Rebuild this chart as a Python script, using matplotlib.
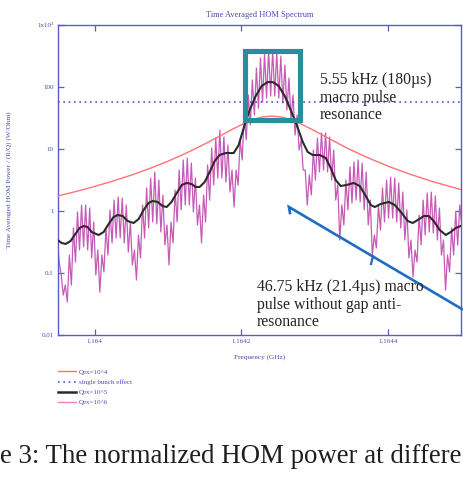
import numpy as np
import matplotlib
matplotlib.use("Agg")
import matplotlib.pyplot as plt
from matplotlib.patches import Rectangle
from matplotlib.lines import Line2D
from matplotlib.ticker import FixedLocator, NullLocator

# ---------------- data ----------------
BASE_GHZ = 1.164          # frequency offset origin (GHz); offsets below in kHz

# Qex = 10^4
qex4_khz = [-55, -50, -25, 0, 25, 50, 75, 100, 125, 150, 170, 190, 205, 220, 230,
            242, 255, 265, 280, 300, 320, 345, 370, 400, 430, 460, 505]
qex4_val = [1.69, 1.75, 2.07, 2.49, 3.04, 3.79, 4.84, 6.34, 8.59, 12.0, 16.0, 21.4,
            26.2, 30.8, 33.0, 34.0, 32.8, 30.5, 25.9, 19.7, 14.7, 10.3, 7.49, 5.31,
            3.94, 3.01, 2.13]

# single bunch effect
single_bunch_val = 57.0

# Qex = 10^5
qex5_khz = [-50.5, -45, -39.6, -32.8, -27.3, -20.5, -15, -9.6, -4.1, 5.5, 12.3, 19.1,
            25.9, 31.4, 38.2, 45, 53.2, 60.1, 66.9, 73.7, 79.2, 86, 92.8, 98.3, 105,
            112, 119, 125.6, 132.4, 137.9, 143.3, 150.2, 157, 163.8, 170.6, 178.8,
            189.8, 196.6, 203.4, 211.6, 219.8, 228, 236.2, 243, 251.2, 259.4, 267.6,
            275.8, 284, 290.8, 297.6, 307.2, 315.4, 322.2, 329, 335.8, 344, 353.6,
            361.8, 370, 376.8, 382.3, 390.5, 401.4, 409.6, 419.1, 427.3, 434.1, 441,
            449.2, 456, 462.8, 471, 479.2, 486, 492.8, 499.7]
qex5_val = [0.34, 0.305, 0.294, 0.328, 0.41, 0.532, 0.573, 0.552, 0.458, 0.41, 0.458,
            0.617, 0.80, 0.861, 0.83, 0.69, 0.64, 0.743, 1.04, 1.35, 1.45, 1.40, 1.20,
            1.16, 1.40, 1.95, 2.63, 2.83, 2.72, 2.44, 2.44, 2.94, 4.26, 6.4, 8.0, 8.6,
            8.6, 11.6, 21.8, 42.6, 71.6, 104, 120, 120, 104, 71.6, 42.6, 24.4, 13.0,
            8.95, 8.0, 8.0, 7.16, 4.94, 3.16, 2.53, 2.63, 2.83, 2.53, 1.75, 1.25, 1.16,
            1.30, 1.40, 1.25, 0.928, 0.69, 0.64, 0.716, 0.83, 0.83, 0.69, 0.494, 0.41,
            0.458, 0.532, 0.573]

# Qex = 10^6 : read at every half spike spacing (5.55 kHz comb), spike tips and dips
qex6_center_khz = 243.0
qex6_half_step_khz = 2.775
qex6_first_index = -106
qex6_val = [
    0.34, 0.15,
    0.093, 0.044, 0.064, 0.034,
    0.195, 0.064, 0.532, 0.150, 0.963, 0.235, 1.25, 0.263, 1.25, 0.235, 1.12, 0.175, 0.665, 0.093, 0.235, 0.049,
    0.195, 0.104, 0.532, 0.195, 1.04, 0.305, 1.50, 0.367, 1.68, 0.367, 1.62, 0.305, 1.25, 0.218, 0.665, 0.135, 0.235, 0.077,
    0.41, 0.175, 1.25, 0.367, 2.35, 0.532, 3.40, 0.665, 4.26, 0.617, 3.16, 0.458, 1.81, 0.283, 0.595, 0.135,
    0.665, 0.305, 2.18, 0.665, 4.58, 1.04, 6.65, 1.25, 7.16, 1.25, 5.94, 0.963, 3.40, 0.595, 1.25, 0.305,
    1.81, 0.665, 5.52, 1.50, 10.4, 2.63, 15.0, 3.40, 20.2, 3.40, 15.6, 2.94, 11.6, 2.02, 4.58, 1.16,
    4.58, 2.63, 14.0, 6.65, 35.3, 14.0, 74.3, 24.4, 130, 35.3, 202, 45.8, 294, 57.3, 353, 66.5, 395, 71.6,
    395, 71.6, 367, 66.5, 316, 55.2, 226, 42.6, 140, 29.4, 74.3, 16.8, 35.3, 9.64, 14.0, 4.58, 4.58, 1.25,
    3.81, 1.81, 9.64, 3.16, 15.0, 4.26, 18.1, 4.58, 18.1, 4.26, 15.6, 3.16, 9.64, 1.50, 2.63, 0.340,
    1.25, 0.595, 3.16, 1.04, 5.13, 1.35, 6.17, 1.50, 6.65, 1.40, 5.94, 1.04, 4.26, 0.595, 1.50, 0.195,
    0.41, 0.253, 1.25, 0.494, 2.35, 0.665, 3.16, 0.771, 3.53, 0.771, 3.40, 0.665, 2.83, 0.532, 2.02, 0.340, 1.04, 0.175, 0.340, 0.086,
    0.235, 0.150, 0.861, 0.283, 1.50, 0.410, 1.95, 0.458, 2.02, 0.442, 1.75, 0.340, 1.12, 0.195, 0.340, 0.053,
    0.195, 0.104, 0.532, 0.195, 0.963, 0.283, 1.25, 0.595,
]

x_ticks = [1.164, 1.1642, 1.1644]
x_tick_labels = ["1.164", "1.1642", "1.1644"]
y_ticks = [0.01, 0.1, 1, 10, 100, 1000]
y_tick_labels = ["0.01", "0.1", "1", "10", "100", "1x10\u00b3"]
x_limits = (1.16395, 1.1645)
y_limits = (0.01, 1000)

legend_labels = ["Qex=10^4", "single bunch effect", "Qex=10^5", "Qex=10^6"]
caption_text = "e 3: The normalized HOM power at differe"

# ---------------- styling ----------------
SERIF = ["Liberation Serif", "DejaVu Serif"]
AX_BLUE = "#5a5ac8"
TXT_BLUE = "#4b4bb0"
RED = "#ff7272"
BLACK = "#2b2b2b"
MAGENTA = "#c65ab6"
DOT_BLUE = "#4f4fd6"

plt.rcParams["font.family"] = SERIF

W, H = 463, 483
fig = plt.figure(figsize=(W / 100, H / 100), dpi=100)
ax_l, ax_r, ax_t, ax_b = 58, 461, 25, 335
ax = fig.add_axes([ax_l / W, 1 - ax_b / H, (ax_r - ax_l) / W, (ax_b - ax_t) / H])

def khz_to_ghz(k):
    return BASE_GHZ + np.asarray(k, dtype=float) * 1e-6

qex6_khz = qex6_center_khz + qex6_half_step_khz * np.arange(qex6_first_index,
                                                             qex6_first_index + len(qex6_val))

l6, = ax.plot(khz_to_ghz(qex6_khz), qex6_val, color=MAGENTA, lw=0.9, zorder=2)
l4, = ax.plot(khz_to_ghz(qex4_khz), qex4_val, color=RED, lw=1.0, zorder=3)
l5, = ax.plot(khz_to_ghz(qex5_khz), qex5_val, color=BLACK, lw=1.5, zorder=4)
lsb = ax.axhline(single_bunch_val, color=DOT_BLUE, lw=1.2, linestyle=(0, (1, 2.2)), zorder=3)

ax.set_yscale("log")
ax.set_xlim(*x_limits)
ax.set_ylim(*y_limits)
ax.xaxis.set_major_locator(FixedLocator(x_ticks))
ax.set_xticklabels(x_tick_labels)
ax.yaxis.set_major_locator(FixedLocator(y_ticks))
ax.set_yticklabels(y_tick_labels)
ax.yaxis.set_minor_locator(NullLocator())
ax.xaxis.set_minor_locator(NullLocator())

ax.tick_params(which="major", direction="in", length=4, width=0.9, color=AX_BLUE,
               labelcolor=TXT_BLUE, labelsize=5, top=True, right=True, pad=3)
for s in ax.spines.values():
    s.set_color(AX_BLUE)
    s.set_linewidth(1.0)

ax.set_title("Time Averaged HOM Spectrum", fontsize=6, color=TXT_BLUE, pad=6)
ax.set_xlabel("Frequency (GHz)", fontsize=5.2, color=TXT_BLUE)
ax.xaxis.set_label_coords(0.5, -0.063)
ax.set_ylabel("Time Averaged HOM Power / (R/Q) (W/Ohm)", fontsize=5.2, color=TXT_BLUE)
ax.yaxis.set_label_coords(-0.114, 0.5)

# annotations (axes fraction)
ax.add_patch(Rectangle((0.4628, 0.692), 0.6017 - 0.4628, 0.916 - 0.692,
                       transform=ax.transAxes, fill=False, edgecolor="#2b8c9c",
                       lw=3.7, zorder=6, clip_on=False))
ax.add_line(Line2D([0.5757, 0.573, 1.002], [0.3935, 0.413, 0.084], transform=ax.transAxes,
                   color="#1f6cc0", lw=1.9, zorder=6, clip_on=False, solid_joinstyle="miter"))
ax.add_line(Line2D([0.7816, 0.7767], [0.2532, 0.229], transform=ax.transAxes,
                   color="#1f6cc0", lw=1.6, zorder=6, clip_on=False))
ax.text(0.650, 0.848, "5.55 kHz (180\u00b5s)\nmacro pulse\nresonance", transform=ax.transAxes,
        fontsize=11.3, color="#222222", va="top", ha="left", linespacing=1.13, zorder=7)
ax.text(0.494, 0.180, "46.75 kHz (21.4\u00b5s) macro\npulse without gap anti-\nresonance",
        transform=ax.transAxes, fontsize=11.3, color="#222222", va="top", ha="left",
        linespacing=1.13, zorder=7, clip_on=False)

# legend
handles = [l4, Line2D([], [], color=DOT_BLUE, lw=1.2, linestyle=(0, (1, 2.2))),
           Line2D([], [], color=BLACK, lw=1.8), Line2D([], [], color="#ee7fc4", lw=1.0)]
fig.legend(handles, legend_labels, loc="upper left",
           bbox_to_anchor=(58 / W, 1 - 369 / H), frameon=False, fontsize=5,
           labelcolor=TXT_BLUE, handlelength=2.6, handletextpad=0.4,
           labelspacing=0.62, borderpad=0, borderaxespad=0)

# caption (visible portion of the source crop)
fig.text(0.5 / W, 1 - 463 / H, caption_text, fontsize=19.35, family=SERIF, color="#1e1e1e",
         ha="left", va="baseline")

fig.savefig("out.png", dpi=100)
